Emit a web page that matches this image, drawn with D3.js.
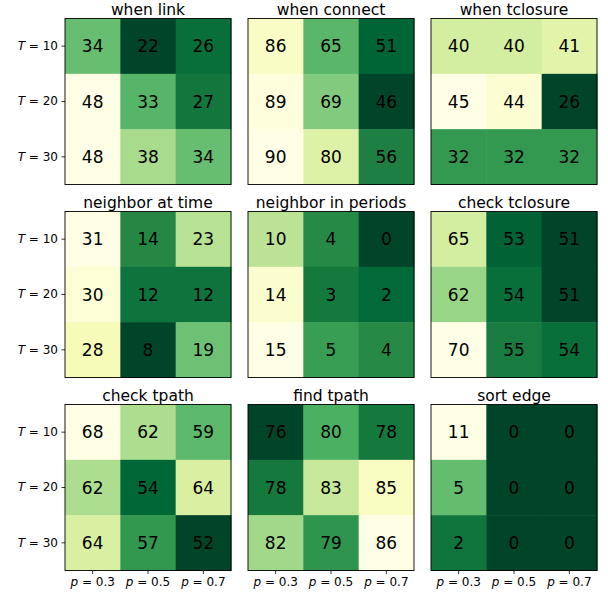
<!DOCTYPE html>
<html>
<head>
<meta charset="utf-8">
<script src="https://cdn.jsdelivr.net/npm/d3@7"></script>
<style>
  body { margin: 0; background: #fff; }
  svg text { font-family: "DejaVu Sans", sans-serif; }
</style>
</head>
<body>
<script>
const TITLES = ['when link', 'when connect', 'when tclosure',
    'neighbor at time', 'neighbor in periods', 'check tclosure',
    'check tpath', 'find tpath', 'sort edge']

const T_LABELS = ['10', '20', '30']
const P_LABELS = ['0.3', '0.5', '0.7']

// rows = T, columns = p
const whenLink = [[34, 22, 26], [48, 33, 27], [48, 38, 34]]
const whenConnect = [[86, 65, 51], [89, 69, 46], [90, 80, 56]]
const whenTclosure = [[40, 40, 41], [45, 44, 26], [32, 32, 32]]
const neighborAtTime = [[31, 14, 23], [30, 12, 12], [28, 8, 19]]
const neighborInPeriods = [[10, 4, 0], [14, 3, 2], [15, 5, 4]]
const checkTclosure = [[65, 53, 51], [62, 54, 51], [70, 55, 54]]
const checkTpath = [[68, 62, 59], [62, 54, 64], [64, 57, 52]]
const findTpath = [[76, 80, 78], [78, 83, 85], [82, 79, 86]]
const sortEdge = [[11, 0, 0], [5, 0, 0], [2, 0, 0]]

const PANELS = [whenLink, whenConnect, whenTclosure,
    neighborAtTime, neighborInPeriods, checkTclosure,
    checkTpath, findTpath, sortEdge]

// matplotlib's YlGn, reversed (high = light)
const YLGN = ['#ffffe5', '#f7fcb9', '#d9f0a3', '#addd8e', '#78c679',
    '#41ab5d', '#238443', '#006837', '#004529']
const ylgnR = d3.scaleLinear()
    .domain(d3.range(YLGN.length).map(i => i / (YLGN.length - 1)))
    .range(YLGN.slice().reverse())
    .interpolate(d3.interpolateRgb)

const W = 608, H = 594
const left0 = 65, top0 = 18.5, size = 166, stepX = 183, stepY = 193

const svg = d3.select('body').append('svg')
    .attr('width', W)
    .attr('height', H)

PANELS.forEach((data, k) => {
    const row = Math.floor(k / 3), col = k % 3
    const g = svg.append('g')
        .attr('transform', `translate(${left0 + col * stepX} ${top0 + row * stepY})`)

    const x = d3.scaleBand().domain(P_LABELS).range([0, size])
    const y = d3.scaleBand().domain(T_LABELS).range([0, size])

    const flat = data.flatMap(r => r)
    const norm = d3.scaleLinear().domain(d3.extent(flat)).range([0, 1])

    const cells = data.flatMap((r, i) => r.map((v, j) => ({ t: T_LABELS[i], p: P_LABELS[j], v })))

    g.selectAll('rect.cell')
        .data(cells)
        .join('rect')
            .attr('class', 'cell')
            .attr('x', d => x(d.p))
            .attr('y', d => y(d.t))
            .attr('width', x.bandwidth() + 0.5)
            .attr('height', y.bandwidth() + 0.5)
            .attr('fill', d => ylgnR(norm(d.v)))

    g.selectAll('text.val')
        .data(cells)
        .join('text')
            .attr('class', 'val')
            .attr('x', d => x(d.p) + x.bandwidth() / 2)
            .attr('y', d => y(d.t) + y.bandwidth() / 2)
            .attr('text-anchor', 'middle')
            .attr('dominant-baseline', 'central')
            .style('font-size', '17px')
            .text(d => d.v)

    g.append('rect')
        .attr('width', size)
        .attr('height', size)
        .attr('fill', 'none')
        .attr('stroke', '#000')
        .attr('stroke-width', 0.9)

    g.append('text')
        .attr('x', size / 2)
        .attr('y', -4)
        .attr('text-anchor', 'middle')
        .style('font-size', '15.5px')
        .text(TITLES[k])

    if (col === 0) {
        const ax = g.append('g')
            .call(d3.axisLeft(y).tickSize(3.5).tickPadding(3.5)
                .tickFormat(() => ''))
        ax.select('.domain').remove()
        ax.selectAll('.tick line').attr('stroke-width', 0.8)
        ax.selectAll('.tick text')
            .style('font-size', '12px')
            .html(d => `<tspan font-style="italic">T</tspan> = ${d}`)
    }
    if (row === 2) {
        const ax = g.append('g')
            .attr('transform', `translate(0 ${size})`)
            .call(d3.axisBottom(x).tickSize(3.5).tickPadding(3.5)
                .tickFormat(() => ''))
        ax.select('.domain').remove()
        ax.selectAll('.tick line').attr('stroke-width', 0.8)
        ax.selectAll('.tick text')
            .style('font-size', '12px')
            .html(d => `<tspan font-style="italic">p</tspan> = ${d}`)
    }
})
</script>
</body>
</html>
